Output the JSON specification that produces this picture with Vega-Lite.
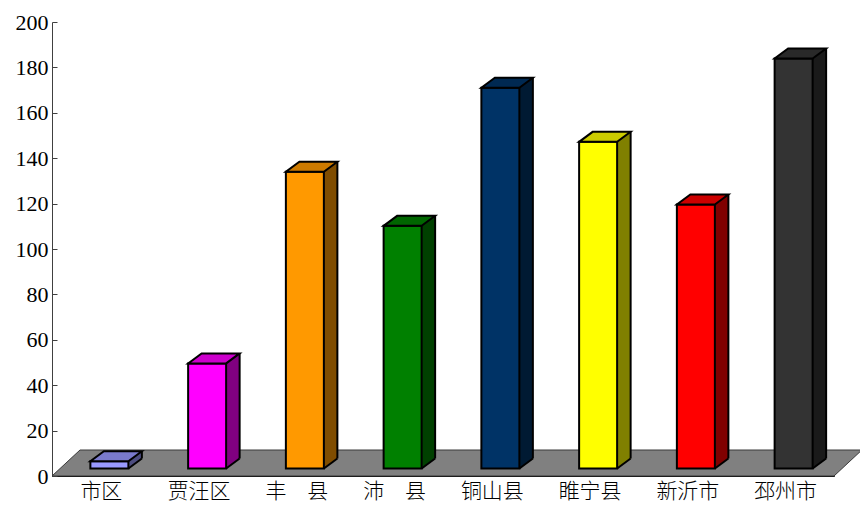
{
  "$schema": "https://vega.github.io/schema/vega-lite/v6.json",
  "width": 782,
  "height": 454,
  "autosize": "none",
  "padding": {"left": 52, "top": 22, "right": 26, "bottom": 30},
  "background": "white",
  "config": {
    "view": {"stroke": null},
    "font": "Liberation Serif, Noto Sans CJK SC",
    "axis": {"grid": false, "title": null, "zindex": 1, "labelColor": "black", "labelFont": "Liberation Serif, Noto Sans CJK SC", "labelFontSize": 21},
    "axisX": {"domainColor": "black", "domainWidth": 1, "tickColor": "black", "tickBand": "extent", "tickSize": -6, "labelPadding": 10, "labelAngle": 0, "labelFontWeight": 300},
    "axisY": {"domainColor": "#404040", "domainWidth": 1, "tickColor": "#404040", "tickSize": -5, "labelPadding": 9, "labelFontSize": 22, "values": [0, 20, 40, 60, 80, 100, 120, 140, 160, 180, 200]}
  },
  "data": {
    "values": [
      {"region": "市区", "value": 3.2},
      {"region": "贾汪区", "value": 46.3},
      {"region": "丰　县", "value": 130.7},
      {"region": "沛　县", "value": 106.9},
      {"region": "铜山县", "value": 167.7},
      {"region": "睢宁县", "value": 143.9},
      {"region": "新沂市", "value": 116.3},
      {"region": "邳州市", "value": 180.6}
    ]
  },
  "encoding": {
    "x": {"field": "region", "type": "nominal", "sort": null, "title": null, "scale": {"paddingInner": 0, "paddingOuter": 0}},
    "y": {"field": "value", "type": "quantitative", "title": null, "scale": {"domain": [0, 200], "nice": false, "zero": true}}
  },
  "layer": [
    {
      "transform": [{"filter": "datum.region === '市区'"}],
      "mark": {"type": "point", "shape": "M -48.875 0 L 733.125 0 L 761 -26 L -20.875 -26 Z", "size": 4, "filled": true, "fill": "#808080", "stroke": "#3a3a3a", "strokeWidth": 1, "opacity": 1},
      "encoding": {"y": {"datum": 0}}
    },
    {
      "mark": {"type": "bar", "width": 13.5, "xOffset": 34.25, "yOffset": -17.5, "y2Offset": -17.5, "strokeWidth": 0, "opacity": 1},
      "encoding": {
        "y2": {"datum": 0},
        "fill": {"field": "region", "type": "nominal", "sort": null, "legend": null,
          "scale": {"range": ["#4D4D80", "#800080", "#804D00", "#004000", "#001A33", "#808000", "#800000", "#1A1A1A"]}}
      }
    },
    {
      "mark": {"type": "point", "shape": "M 27.5 -7.5 L 41 -17.5 L 41 -18.5 L 27.5 -18.5 Z", "size": 4, "filled": true, "strokeWidth": 0, "opacity": 1},
      "encoding": {
        "y": {"datum": 0},
        "fill": {"field": "region", "type": "nominal", "sort": null, "legend": null,
          "scale": {"range": ["#4D4D80", "#800080", "#804D00", "#004000", "#001A33", "#808000", "#800000", "#1A1A1A"]}}
      }
    },
    {
      "mark": {"type": "rule", "xOffset": 41, "yOffset": -17.5, "y2Offset": -17.5, "stroke": "black", "strokeWidth": 2},
      "encoding": {"y2": {"datum": 0}}
    },
    {
      "mark": {"type": "point", "shape": "M 27.5 -7.5 L 41 -17.5", "size": 4, "filled": false, "fill": null, "stroke": "black", "strokeWidth": 2, "opacity": 1},
      "encoding": {"y": {"datum": 0}}
    },
    {
      "mark": {"type": "bar", "width": 38, "xOffset": 8.5, "yOffset": -7.5, "y2Offset": -7.5, "stroke": "black", "strokeWidth": 2, "opacity": 1},
      "encoding": {
        "y2": {"datum": 0},
        "fill": {"field": "region", "type": "nominal", "sort": null, "legend": null,
          "scale": {"range": ["#9999FF", "#FF00FF", "#FF9900", "#008000", "#003366", "#FFFF00", "#FF0000", "#333333"]}}
      }
    },
    {
      "mark": {"type": "point", "shape": "M -10.5 -7.5 L 27.5 -7.5 L 41 -17.5 L 3 -17.5 Z", "size": 4, "filled": true, "stroke": "black", "strokeWidth": 2, "opacity": 1},
      "encoding": {
        "fill": {"field": "region", "type": "nominal", "sort": null, "legend": null,
          "scale": {"range": ["#7A7ACC", "#CC00CC", "#CC7A00", "#006600", "#002952", "#CCCC00", "#CC0000", "#292929"]}}
      }
    }
  ],
  "resolve": {"scale": {"fill": "independent"}}
}
